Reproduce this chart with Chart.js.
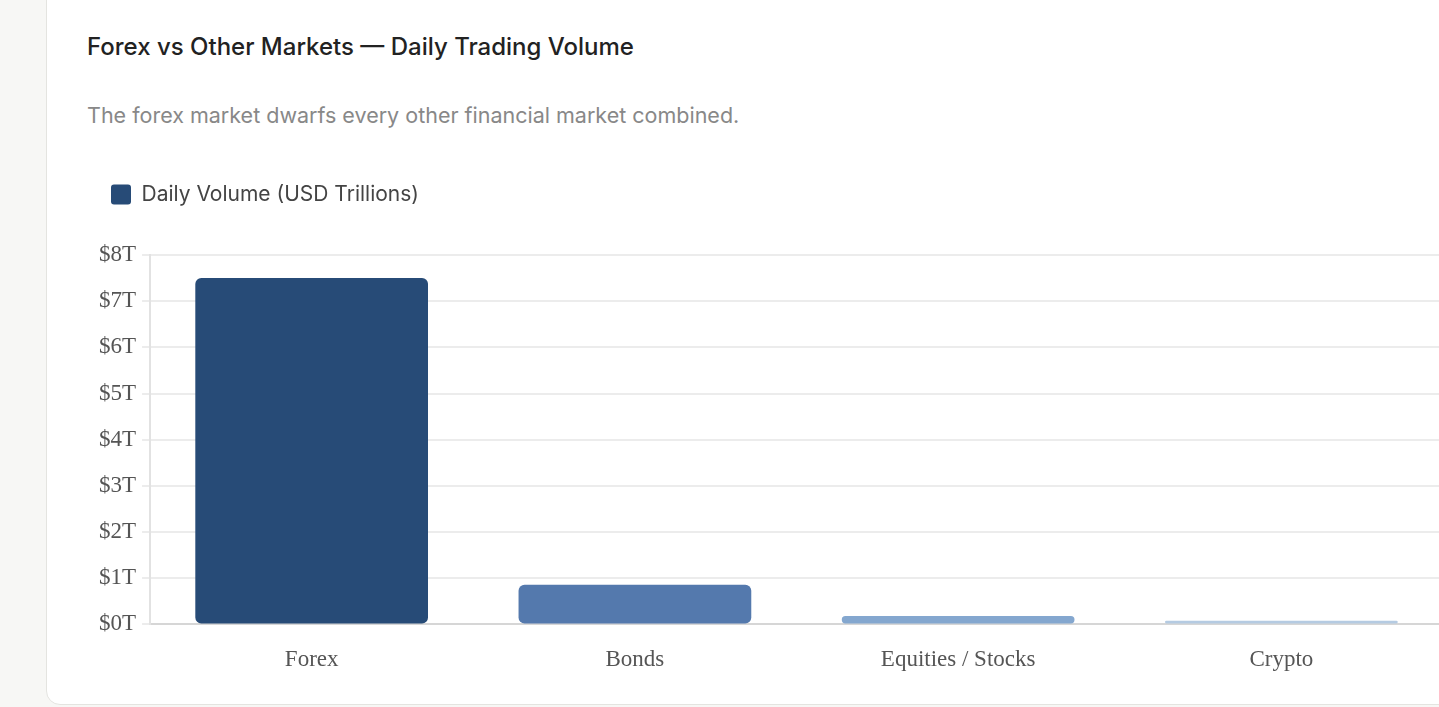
<!DOCTYPE html>
<html>
<head>
<meta charset="utf-8">
<script src="https://cdn.jsdelivr.net/npm/chart.js@4/dist/chart.umd.min.js"></script>
<style>
  html, body { margin: 0; padding: 0; background: #f7f7f5; overflow: hidden; }
  body { width: 1439px; height: 707px; position: relative; font-family: Inter, "Noto Sans", sans-serif; }
  .card {
    position: absolute; left: 46px; top: -20px; width: 1460px; height: 725px;
    background: #fff; border: 1px solid #e4e4e0; border-radius: 14px; box-sizing: border-box;
  }
  h2 { position: absolute; left: 40px; top: 51px; margin: 0; font-size: 24px; font-weight: 500; color: #222; }
  p.sub { position: absolute; left: 40px; top: 121px; margin: 0; font-size: 21.5px; color: #888; }
  .wrap { position: absolute; left: 22px; top: 185px; width: 1374px; height: 541px; }
</style>
</head>
<body>
<div class="card">
  <h2>Forex vs Other Markets — Daily Trading Volume</h2>
  <p class="sub">The forex market dwarfs every other financial market combined.</p>
  <div class="wrap"><canvas id="c"></canvas></div>
</div>
<script>
// Daily trading volume, USD trillions
const markets = ['Forex', 'Bonds', 'Equities / Stocks', 'Crypto'];
const volumes = [7.5, 0.86, 0.18, 0.08];
const barColors = ['#274b77', '#5479ad', '#84a7cf', '#b5cbe2'];
const seriesLabel = 'Daily Volume (USD Trillions)';

// extra space between legend and plot
const legendGap = { id: 'legendGap', beforeInit(chart) {
  const fit = chart.legend.fit;
  chart.legend.fit = function () { fit.bind(chart.legend)(); this.height += 40; };
} };

new Chart(document.getElementById('c'), {
  type: 'bar',
  data: {
    labels: markets,
    datasets: [{ label: seriesLabel, data: volumes, backgroundColor: barColors, borderRadius: 6, borderSkipped: false }],
  },
  plugins: [legendGap],
  options: {
    responsive: true,
    maintainAspectRatio: false,
    animation: false,
    layout: { padding: { left: 24, right: 0, top: 0, bottom: 19 } },
    plugins: {
      legend: {
        align: 'start',
        labels: {
          boxWidth: 20, boxHeight: 20, useBorderRadius: true, borderRadius: 3,
          color: '#444', padding: 18,
          font: { family: 'Inter, "Noto Sans", sans-serif', size: 21 },
          generateLabels: () => [{ text: seriesLabel, fillStyle: barColors[0], strokeStyle: barColors[0], fontColor: '#444', lineWidth: 0, borderRadius: 3 }],
        },
      },
      tooltip: { enabled: false },
    },
    scales: {
      x: {
        grid: { display: false },
        border: { color: '#d6d6d6', width: 2 },
        ticks: { color: '#555', padding: 14, font: { family: '"Liberation Serif", "DejaVu Serif", serif', size: 23 } },
      },
      y: {
        min: 0, max: 8,
        grid: { color: '#ececec', lineWidth: 2 },
        border: { color: '#e2e2e2', width: 2 },
        ticks: { stepSize: 1, color: '#555', padding: 6, callback: v => '$' + v + 'T', font: { family: '"Liberation Serif", "DejaVu Serif", serif', size: 23 } },
      },
    },
  },
});
</script>
</body>
</html>
